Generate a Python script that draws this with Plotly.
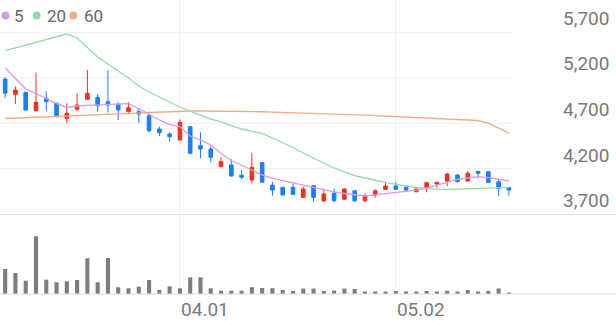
import plotly.graph_objects as go

# ---- data ----
idx = list(range(50))
open_ = [5185, 5017, 5040, 4838, 4973, 4919, 4754, 4853, 4962, 4984,
         4936, 4908, 4827, 4827, 4783, 4637, 4582, 4516, 4662, 4454,
         4418, 4224, 4242, 4130, 4078, 4268, 4023, 3998, 3998, 3888,
         4016, 3848, 3932, 3867, 3961, 3851, 3914, 3976, 4012, 3998,
         3950, 3998, 4034, 4067, 4133, 4067, 4173, 4169, 4059, 3994]
high = [5205, 5100, 5040, 5254, 5053, 4925, 4919, 5028, 5284, 5021,
        5284, 4930, 4930, 4864, 4790, 4662, 4601, 4743, 4670, 4601,
        4443, 4327, 4305, 4188, 4377, 4272, 4059, 3998, 4042, 4005,
        4023, 3968, 3979, 3987, 3961, 3932, 3976, 4049, 4059, 4023,
        3998, 4059, 4059, 4158, 4141, 4177, 4177, 4177, 4078, 3994]
low = [4975, 4911, 4838, 4827, 4834, 4765, 4699, 4838, 4955, 4827,
       4816, 4736, 4816, 4706, 4596, 4560, 4498, 4509, 4360, 4316,
       4272, 4224, 4114, 4086, 4042, 4049, 3906, 3906, 3914, 3888,
       3840, 3840, 3834, 3859, 3834, 3834, 3888, 3968, 3968, 3958,
       3943, 3943, 3994, 4012, 4053, 4059, 4097, 4049, 3903, 3906]
close = [5030, 5064, 4845, 4930, 4936, 4772, 4809, 4900, 5028, 4892,
         4900, 4845, 4870, 4801, 4618, 4596, 4553, 4710, 4371, 4418,
         4327, 4279, 4122, 4108, 4217, 4053, 3968, 3914, 3921, 3979,
         3888, 3925, 3851, 3979, 3851, 3906, 3961, 4012, 3976, 3968,
         3979, 4049, 4053, 4144, 4059, 4152, 4152, 4053, 3987, 3968]
ma5 = [5305, 5185, 5075, 5026, 4971, 4916, 4873, 4889, 4895, 4900,
       4905, 4916, 4916, 4862, 4796, 4736, 4686, 4664, 4560, 4516,
       4462, 4368, 4292, 4242, 4188, 4133, 4095, 4070, 4045, 4018,
       3998, 3968, 3947, 3930, 3914, 3903, 3914, 3927, 3939, 3958,
       3968, 3990, 4023, 4059, 4084, 4100, 4114, 4105, 4084, 4067]
ma20 = [5495, 5525, 5558, 5585, 5618, 5651, 5678, 5634, 5525, 5426,
        5349, 5273, 5196, 5108, 5042, 4988, 4933, 4878, 4834, 4790,
        4746, 4714, 4675, 4637, 4610, 4588, 4538, 4489, 4434, 4374,
        4319, 4259, 4210, 4166, 4127, 4100, 4073, 4051, 4031, 4012,
        3996, 3983, 3977, 3976, 3979, 3983, 3987, 3990, 3994, 3998]
ma60 = [4752, 4756, 4760, 4764, 4768, 4772, 4776, 4780, 4785, 4790,
        4795, 4800, 4806, 4812, 4818, 4824, 4829, 4833, 4834, 4834,
        4834, 4833, 4832, 4830, 4828, 4826, 4823, 4820, 4816, 4812,
        4808, 4804, 4800, 4796, 4792, 4788, 4783, 4778, 4774, 4770,
        4766, 4762, 4758, 4753, 4747, 4740, 4730, 4702, 4650, 4592]
volume = [1250, 1050, 665, 2885, 715, 585, 635, 700, 1785, 585,
          1800, 335, 285, 365, 700, 200, 385, 285, 835, 835,
          285, 165, 165, 165, 340, 300, 290, 200, 150, 270,
          270, 150, 170, 270, 250, 125, 125, 125, 150, 125,
          125, 150, 125, 160, 125, 200, 125, 150, 275, 40]

x_tickvals = [17, 38]
x_ticktext = ["04.01", "05.02"]
y_tickvals = [3700, 4200, 4700, 5200, 5700]
y_ticktext = ["3,700", "4,200", "4,700", "5,200", "5,700"]
ma_names = ["5", "20", "60"]
ma_colors = ["#d59ae9", "#93dba5", "#f6a983"]

RED = "#e9331f"
BLUE = "#1c7ef1"
PRICE_DOM = [0.2704, 1.0]
PRICE_RANGE = [3700, 6050.7]
VOL_RANGE = [0, 3975]

fig = go.Figure()

for vals, col in zip([ma60, ma20, ma5], [ma_colors[2], ma_colors[1], ma_colors[0]]):
    fig.add_trace(go.Scatter(x=idx, y=vals, mode="lines",
                             line=dict(color=col, width=1.3),
                             hoverinfo="skip", showlegend=False))

fig.add_trace(go.Candlestick(
    x=idx, open=open_, high=high, low=low, close=close,
    increasing=dict(line=dict(color=RED, width=1), fillcolor=RED),
    decreasing=dict(line=dict(color=BLUE, width=1), fillcolor=BLUE),
    whiskerwidth=0, showlegend=False))

fig.add_trace(go.Bar(x=idx, y=volume, yaxis="y2", width=0.4,
                     marker=dict(color="#7d7d7d", line=dict(width=0)),
                     showlegend=False))

fig.update_layout(
    width=616, height=321,
    margin=dict(l=0, r=103, t=0, b=27),
    paper_bgcolor="white", plot_bgcolor="white",
    font=dict(family="Roboto", color="#777777"),
    boxgap=0.5,
    showlegend=False,
    xaxis=dict(range=[-0.5, 49.4], tickvals=x_tickvals, ticktext=x_ticktext,
               anchor="y2",
               showgrid=True, gridcolor="#efefef", gridwidth=1,
               zeroline=False, showline=False, ticks="",
               rangeslider=dict(visible=False),
               tickfont=dict(size=19, color="#7a7a7a"),
               ticklabelshift=25, ticklabelstandoff=2),
    yaxis=dict(domain=PRICE_DOM, range=PRICE_RANGE, side="right",
               tickvals=y_tickvals, ticktext=y_ticktext,
               showgrid=True, gridcolor="#f1f1f1", gridwidth=1,
               zeroline=False, showline=False, ticks="",
               tickfont=dict(size=19, color="#7a7a7a"),
               ticklabelstandoff=49, ticklabelshift=-14),
    yaxis2=dict(domain=[0, PRICE_DOM[0]], range=VOL_RANGE, anchor="x",
                showgrid=False, zeroline=False, showline=False,
                showticklabels=False, ticks=""),
)

# separators spanning the full width
fig.add_shape(type="line", xref="paper", yref="paper",
              x0=0, x1=616 / 513, y0=PRICE_DOM[0], y1=PRICE_DOM[0],
              line=dict(color="#e4e4e4", width=1))
fig.add_shape(type="line", xref="paper", yref="paper",
              x0=0, x1=616 / 513, y0=0, y1=0,
              line=dict(color="#dddddd", width=1))

# legend (dots + labels)
leg_dot_x = [5.5, 36.7, 73.3]
leg_txt_x = [12, 45, 82]
for name, col, dx, tx in zip(ma_names, ma_colors, leg_dot_x, leg_txt_x):
    fig.add_shape(type="circle", xref="paper", yref="paper",
                  xsizemode="pixel", ysizemode="pixel",
                  xanchor=dx / 513, yanchor=1 - 15.5 / 294,
                  x0=-3.9, x1=3.9, y0=-3.9, y1=3.9,
                  fillcolor=col, line=dict(width=0))
    fig.add_annotation(xref="paper", yref="paper", x=tx / 513, y=1 - 15.5 / 294,
                       text=name, showarrow=False, xanchor="left", yanchor="middle",
                       font=dict(size=17, color="#666666"))

fig.write_html("out.html")
